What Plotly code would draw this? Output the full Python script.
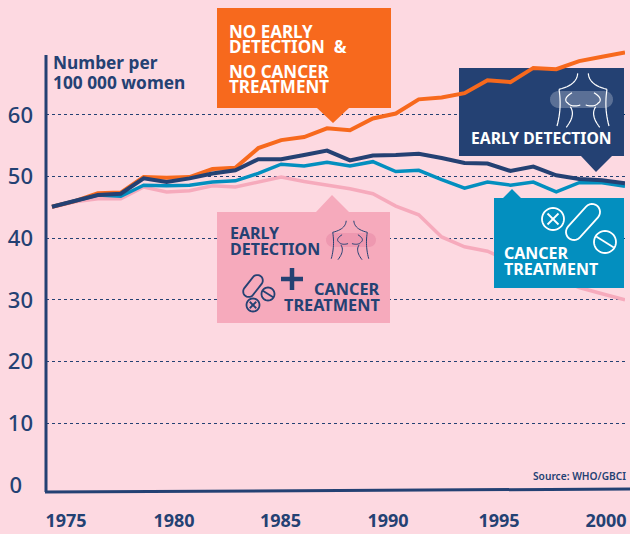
import math
import plotly.graph_objects as go

years = list(range(1975, 2001))
no_detection_no_treatment = [45.1, 46.0, 47.3, 47.4, 49.9, 49.8, 49.9, 51.2, 51.4, 54.6, 55.9, 56.4, 57.8,
                             57.5, 59.4, 60.2, 62.5, 62.8, 63.5, 65.6, 65.3, 67.6, 67.4, 68.7, 69.4, 70.1]
early_detection = [45.1, 46.0, 47.0, 47.2, 49.7, 49.1, 49.7, 50.5, 51.0, 52.8, 52.8, 53.5, 54.2,
                   52.6, 53.4, 53.5, 53.7, 53.0, 52.2, 52.1, 50.9, 51.6, 50.2, 49.6, 49.4, 48.9]
cancer_treatment = [45.1, 46.0, 47.0, 46.8, 48.6, 48.5, 48.6, 49.1, 49.3, 50.5, 52.0, 51.7, 52.3,
                    51.7, 52.4, 50.8, 51.0, 49.5, 48.1, 49.1, 48.6, 49.1, 47.5, 49.0, 49.0, 48.4]
both = [45.0, 45.9, 46.4, 46.4, 48.3, 47.5, 47.7, 48.5, 48.3, 49.1, 49.9, 49.2, 48.6,
        48.0, 47.2, 45.2, 43.8, 40.2, 38.6, 37.9, 36.2, 35.0, 33.6, 32.0, 31.0, 30.0]

y_ticks = [0, 10, 20, 30, 40, 50, 60]
y_tick_labels = ["0\u2002", "10", "20", "30", "40", "50", "60"]
x_tick_labels = ["1975", "1980", "1985", "1990", "1995", "2000"]

BG = "#fdd9e1"
ORANGE = "#f7691d"
NAVY = "#244173"
BLUE = "#038fbf"
PINK = "#f6aabc"
FONT = "Noto Sans"

W, H = 630, 534
L, R, T, B = 46, 625, 0, 505


def X(p):
    return 1975 + (p - 52) / 22.92


def Y(p):
    return (485 - p) / 6.17


def PX(p):
    return (p - L) / (R - L)


def PY(p):
    return (B - p) / (B - T)


def poly(points, close=True):
    s = "M" + " L".join(f"{X(a):.4f},{Y(b):.4f}" for a, b in points)
    return s + (" Z" if close else "")


def fill_shape(points, color, layer="between"):
    return dict(type="path", xref="x", yref="y", path=poly(points), fillcolor=color,
                line=dict(width=0), layer=layer)


def stroke_shape(points, color, width, close=False):
    return dict(type="path", xref="x", yref="y", path=poly(points, close),
                line=dict(color=color, width=width), layer="above")


def circle(cx, cy, r, n=36):
    return [(cx + r * math.cos(2 * math.pi * i / n), cy + r * math.sin(2 * math.pi * i / n)) for i in range(n)]


def capsule(cx, cy, half, r, deg, n=12):
    a = math.radians(deg)
    ux, uy = math.cos(a), math.sin(a)
    pts = []
    for sign, start in ((1, a - math.pi / 2), (-1, a + math.pi / 2)):
        ex, ey = cx + sign * half * ux, cy + sign * half * uy
        for i in range(n + 1):
            t = start + math.pi * i / n
            pts.append((ex + r * math.cos(t), ey + r * math.sin(t)))
    return pts


def curve(p0, c, p1, n=12):
    return [((1 - t) ** 2 * p0[0] + 2 * t * (1 - t) * c[0] + t ** 2 * p1[0],
             (1 - t) ** 2 * p0[1] + 2 * t * (1 - t) * c[1] + t ** 2 * p1[1])
            for t in (i / n for i in range(n + 1))]


def torso(cx, cy, scale, color, width):
    out = []
    for m in (-1, 1):
        def q(a, b):
            return (cx - m * a * scale, cy + b * scale)
        out.append(stroke_shape(curve(q(5.3, -26.7), q(6, -15), q(24, -10.7)), color, width))
        out.append(stroke_shape(curve(q(24, -10.7), q(21, 8), q(26, 26)), color, width))
        out.append(stroke_shape(curve(q(11, -7.3), q(21, -1), q(15, 3.3)) + curve(q(15, 3.3), q(11, 7.5), q(2.7, 5)),
                                color, width))
        out.append(stroke_shape(curve(q(12.7, 6.7), q(7, 15), q(16.7, 27.3)), color, width))
    return out


def x_circle(cx, cy, r, color, width):
    d = r * 0.5
    return [stroke_shape(circle(cx, cy, r), color, width, True),
            stroke_shape([(cx - d, cy - d), (cx + d, cy + d)], color, width),
            stroke_shape([(cx - d, cy + d), (cx + d, cy - d)], color, width)]


def bar_circle(cx, cy, r, color, width):
    dx, dy = r * 0.8, r * 0.5
    return [stroke_shape(circle(cx, cy, r), color, width, True),
            stroke_shape([(cx - dx, cy - dy), (cx + dx, cy + dy)], color, width)]


shapes = [
    # call-out boxes
    fill_shape([(217, 8), (391, 8), (391, 108), (349, 108), (333, 123), (317, 108), (217, 108)], ORANGE),
    fill_shape([(459, 68), (624, 68), (624, 156), (612, 156), (596, 172), (581, 156), (459, 156)], NAVY),
    fill_shape([(217, 212), (316, 212), (332, 195), (349, 212), (390, 212), (390, 323), (217, 323)], PINK),
    fill_shape([(494, 198), (503, 198), (512, 189), (521, 198), (624, 198), (624, 288), (494, 288)], BLUE, "above"),
    # bands behind the body icons
    dict(type="path", xref="x", yref="y",
         path=poly(capsule(581.5, 99.5, 23, 8.5, 0)),
         fillcolor="rgba(255,255,255,0.25)", line=dict(width=0), layer="above"),
    dict(type="path", xref="x", yref="y",
         path=poly(capsule(351, 240, 18, 7, 0)),
         fillcolor="#ee98b0", line=dict(width=0), layer="above"),
]
shapes += torso(583, 100, 1.0, "white", 1.2)
shapes += torso(350, 240, 0.72, NAVY, 1.0)
shapes += x_circle(553, 219, 11, "white", 1.8)
shapes.append(stroke_shape(capsule(583, 222, 13.5, 8, -48), "white", 1.8, True))
shapes += bar_circle(605, 242, 11, "white", 1.8)
shapes += x_circle(253, 305, 6.5, NAVY, 1.8)
shapes.append(stroke_shape(capsule(253, 286, 7, 5.5, -52), NAVY, 1.8, True))
shapes += bar_circle(268, 294, 6.5, NAVY, 1.8)
shapes.append(stroke_shape([(281, 279), (303, 279)], NAVY, 4.5))
shapes.append(stroke_shape([(292, 268), (292, 290)], NAVY, 4.5))
# axes
shapes.append(dict(type="line", xref="paper", yref="paper", x0=PX(46), x1=PX(46), y0=PY(55), y1=PY(492),
                   line=dict(color=NAVY, width=3), layer="above"))
shapes.append(dict(type="line", xref="paper", yref="paper", x0=PX(45), x1=PX(630), y0=PY(492), y1=PY(489),
                   line=dict(color=NAVY, width=3), layer="above"))


def label(text, x, y, size, color="white", anchor="left", weight=700):
    return dict(text=text, xref="paper", yref="paper", x=PX(x), y=PY(y), xanchor=anchor, yanchor="middle",
                showarrow=False, align=anchor, font=dict(family=FONT, size=size, color=color, weight=weight))


annotations = [
    label("NO EARLY", 227, 32, 17),
    label("DETECTION  &", 227, 47, 17),
    label("NO CANCER", 227, 71, 17),
    label("TREATMENT", 227, 86, 17),
    label("EARLY DETECTION", 469, 138, 15.7),
    label("CANCER", 502, 253, 16),
    label("TREATMENT", 502, 269, 16),
    label("EARLY", 228, 233, 16, NAVY),
    label("DETECTION", 228, 249, 16, NAVY),
    label("CANCER", 382, 289, 16.3, NAVY, "right"),
    label("TREATMENT", 382, 305, 16.3, NAVY, "right"),
    label("Number per", 51, 62, 17.3, NAVY),
    label("100 000 women", 51, 82, 17.3, NAVY),
    label("Source: WHO/GBCI", 628, 476, 10.2, NAVY, "right", 600),
]

fig = go.Figure()
for name, values, color, width in (
    ("Early detection + cancer treatment", both, PINK, 3.5),
    ("Cancer treatment", cancer_treatment, BLUE, 3.5),
    ("No early detection & no cancer treatment", no_detection_no_treatment, ORANGE, 4),
    ("Early detection", early_detection, NAVY, 4),
):
    fig.add_trace(go.Scatter(x=years, y=values, name=name, mode="lines", cliponaxis=False,
                             line=dict(color=color, width=width)))

label_centres = [66, 174, 280.5, 388, 499, 606]
fig.update_layout(
    width=W, height=H, showlegend=False,
    margin=dict(l=L, r=W - R, t=T, b=H - B, pad=0),
    paper_bgcolor=BG, plot_bgcolor=BG,
    shapes=shapes, annotations=annotations,
    xaxis=dict(range=[X(L), X(R)], showgrid=False, zeroline=False, showline=False,
               tickmode="array", tickvals=[X(c) for c in label_centres], ticktext=x_tick_labels, ticks="",
               tickfont=dict(family=FONT, size=18, color=NAVY, weight=700), ticklabelstandoff=3),
    yaxis=dict(range=[Y(B), Y(T)], showgrid=True, gridcolor=NAVY, griddash="dot", gridwidth=1,
               zeroline=True, zerolinecolor=BG, zerolinewidth=1, showline=False,
               tickmode="array", tickvals=y_ticks, ticktext=y_tick_labels, ticks="",
               tickfont=dict(family=FONT, size=22, color=NAVY, weight=500), ticklabelstandoff=12),
)

fig.write_html("out.html", config={"displayModeBar": False},
               post_script="document.body.style.margin='0';document.body.style.overflow='hidden';")
